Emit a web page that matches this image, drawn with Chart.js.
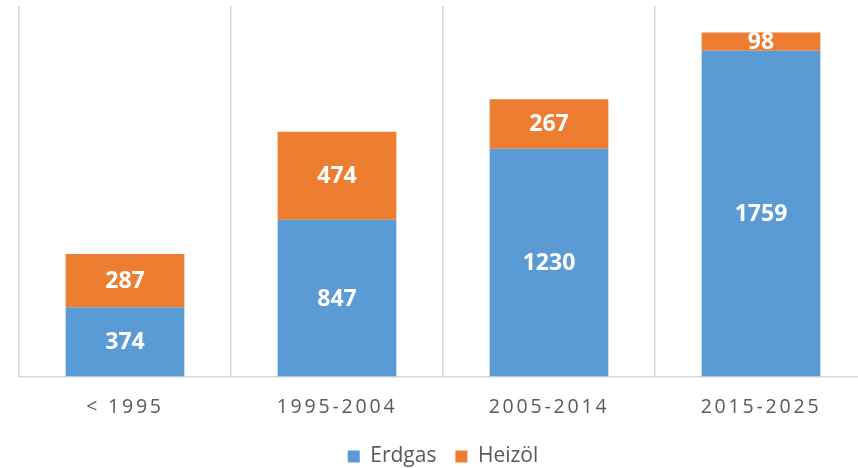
<!DOCTYPE html>
<html lang="de">
<head>
    <meta charset="UTF-8">
    <title>Erdgas / Heizöl</title>
    <script src="https://cdn.jsdelivr.net/npm/chart.js"></script>
    <style>
        html, body { margin: 0; padding: 0; background: #fff; overflow: hidden; }
        #wrap { position: relative; width: 886px; height: 468px; }
    </style>
</head>
<body>
    <div id="wrap"><canvas id="chart"></canvas></div>

    <script>
        // Daten
        const categories = ['< 1995', '1995-2004', '2005-2014', '2015-2025'];
        const erdgas = [374, 847, 1230, 1759];
        const heizoel = [287, 474, 267, 98];

        // Werte weiß in die Mitte der Balken schreiben
        const barLabels = {
            id: 'barLabels',
            afterDatasetsDraw(chart) {
                const ctx = chart.ctx;
                ctx.save();
                ctx.font = 'bold 23px "Open Sans"';
                ctx.fillStyle = '#ffffff';
                ctx.textAlign = 'center';
                ctx.textBaseline = 'middle';
                chart.data.datasets.forEach((ds, i) => {
                    chart.getDatasetMeta(i).data.forEach((bar, j) => {
                        const p = bar.getProps(['x', 'y', 'base'], true);
                        ctx.fillText(ds.data[j], p.x, (p.y + p.base) / 2 + 1);
                    });
                });
                ctx.restore();
            }
        };

        // Buchstabenabstand nur für die Achsenbeschriftung
        const spacedTicks = {
            id: 'spacedTicks',
            afterLayout(chart) {
                const s = chart.scales.x;
                if (s._spaced) return;
                const orig = s.drawLabels;
                s.drawLabels = function (area) {
                    chart.ctx.save();
                    chart.ctx.letterSpacing = '2.8px';
                    orig.call(this, area);
                    chart.ctx.restore();
                };
                s._spaced = true;
            }
        };

        new Chart(document.getElementById('chart'), {
            type: 'bar',
            data: {
                labels: categories,
                datasets: [
                    { label: 'Erdgas', data: erdgas, backgroundColor: '#5B9BD5' },
                    { label: 'Heizöl', data: heizoel, backgroundColor: '#ED7D31' }
                ]
            },
            options: {
                responsive: true,
                maintainAspectRatio: false,
                animation: false,
                layout: { padding: { left: 19, right: 19, top: 6, bottom: 0 } },
                datasets: { bar: { categoryPercentage: 1, barPercentage: 0.56 } },
                scales: {
                    x: {
                        stacked: true,
                        grid: { color: '#d9d9d9', lineWidth: 1.5, drawTicks: false },
                        border: { color: '#d9d9d9', width: 1.5 },
                        ticks: {
                            color: '#595959',
                            font: { family: '"Open Sans"', size: 19.5, lineHeight: 0.33 },
                            padding: 28
                        },
                        afterFit(scale) { scale.height -= 12; }
                    },
                    y: {
                        stacked: true,
                        display: false,
                        min: 0,
                        max: 2000
                    }
                },
                plugins: {
                    legend: {
                        position: 'bottom',
                        maxHeight: 41,
                        labels: {
                            color: '#595959',
                            font: { family: '"Open Sans"', size: 21 },
                            boxWidth: 12,
                            boxHeight: 12,
                            padding: 19
                        }
                    },
                    tooltip: { enabled: false }
                }
            },
            plugins: [barLabels, spacedTicks]
        });
    </script>
</body>
</html>
